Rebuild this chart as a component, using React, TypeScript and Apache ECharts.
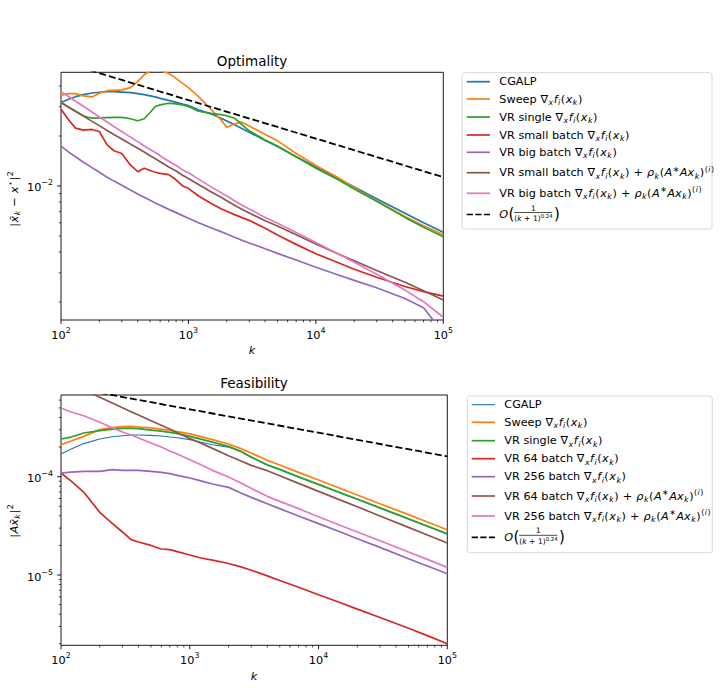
import React, { useEffect, useRef } from "react";
import * as echarts from "echarts";

const F = "DejaVu Sans";

// ---------- Optimality panel (top) ----------
const optK = [100, 115, 130, 150, 175, 200, 230, 260, 300, 350, 400, 450, 500, 550, 600, 700, 800, 900, 1000, 1200, 1500, 1800, 2000, 2300, 2600, 3000, 4000, 5000, 7000, 10000, 15000, 20000, 30000, 50000, 70000, 100000];
const optCgalp = [0.0318, 0.0333, 0.0345, 0.0355, 0.0363, 0.0367, 0.037, 0.037, 0.0368, 0.0365, 0.036, 0.0355, 0.0349, 0.0344, 0.0337, 0.0328, 0.0319, 0.0311, 0.0305, 0.0288, 0.0272, 0.0256, 0.0246, 0.0234, 0.0223, 0.0211, 0.0188, 0.0173, 0.015, 0.013, 0.0111, 0.00986, 0.00839, 0.00685, 0.00601, 0.00526];
const optSweep = [0.0353, 0.036, 0.036, 0.0349, 0.0344, 0.0362, 0.0375, 0.0377, 0.0379, 0.0391, 0.0425, 0.0469, 0.0491, 0.05, 0.0495, 0.0477, 0.0445, 0.0415, 0.0391, 0.0345, 0.029, 0.025, 0.0226, 0.0236, 0.0243, 0.023, 0.0204, 0.0187, 0.0157, 0.0133, 0.0112, 0.00977, 0.00816, 0.00654, 0.00577, 0.00509];
const optSingle = [0.0318, 0.0298, 0.0282, 0.0264, 0.0256, 0.0257, 0.0258, 0.0259, 0.0259, 0.0254, 0.0247, 0.0254, 0.0277, 0.0301, 0.0308, 0.0315, 0.0312, 0.0308, 0.0301, 0.0282, 0.0274, 0.0269, 0.0265, 0.0256, 0.0236, 0.0215, 0.0189, 0.0174, 0.015, 0.0128, 0.0109, 0.00959, 0.00808, 0.00647, 0.00564, 0.00495];
const optSmall = [0.029, 0.025, 0.0223, 0.0217, 0.0219, 0.0213, 0.0177, 0.0163, 0.0157, 0.0134, 0.0122, 0.0128, 0.0124, 0.0121, 0.0119, 0.0117, 0.0109, 0.01, 0.00968, 0.00871, 0.00786, 0.0073, 0.00704, 0.00672, 0.00647, 0.00621, 0.00556, 0.00507, 0.00445, 0.00391, 0.00345, 0.00315, 0.00282, 0.00248, 0.00231, 0.00217];
const optBig = [0.0174, 0.016, 0.015, 0.0139, 0.0129, 0.0121, 0.0113, 0.0107, 0.0101, 0.00946, 0.00895, 0.00855, 0.0082, 0.0079, 0.00765, 0.00723, 0.00691, 0.00663, 0.00639, 0.00601, 0.00561, 0.00531, 0.00514, 0.00491, 0.00473, 0.00454, 0.00419, 0.00393, 0.00358, 0.00324, 0.00291, 0.0027, 0.00244, 0.0021, 0.00185, 0.0013];
const optSmallRho = [0.0318, 0.0298, 0.0282, 0.0264, 0.0245, 0.0231, 0.0216, 0.0204, 0.0192, 0.0179, 0.0169, 0.016, 0.0152, 0.0146, 0.014, 0.013, 0.0123, 0.0116, 0.0111, 0.0102, 0.00924, 0.00855, 0.00816, 0.00765, 0.00727, 0.00688, 0.00618, 0.00574, 0.00509, 0.00447, 0.00389, 0.00355, 0.0031, 0.00263, 0.00234, 0.00206];
const optBigRho = [0.037, 0.0345, 0.0324, 0.0302, 0.0279, 0.026, 0.0243, 0.0228, 0.0213, 0.0197, 0.0185, 0.0174, 0.0166, 0.0159, 0.0152, 0.0141, 0.0133, 0.0125, 0.012, 0.011, 0.00991, 0.00912, 0.00871, 0.00816, 0.00772, 0.00727, 0.00647, 0.00596, 0.00524, 0.00456, 0.00389, 0.00347, 0.00294, 0.00236, 0.00201, 0.00162];
const optRateK = [100, 1000, 10000, 100000];
const optRate = [0.0562, 0.0329, 0.0193, 0.0113];

// ---------- Feasibility panel (bottom) ----------
const feaK = [100, 120, 150, 200, 250, 300, 350, 400, 500, 600, 700, 800, 1000, 1200, 1500, 2000, 2500, 3000, 4000, 5000, 7000, 10000, 15000, 20000, 30000, 50000, 70000, 100000];
const feaCgalp = [1.7e-4, 1.91e-4, 2.17e-4, 2.42e-4, 2.55e-4, 2.61e-4, 2.65e-4, 2.65e-4, 2.63e-4, 2.59e-4, 2.53e-4, 2.49e-4, 2.38e-4, 2.25e-4, 2.11e-4, 2.0e-4, 1.79e-4, 1.57e-4, 1.31e-4, 1.175e-4, 9.9e-5, 8.28e-5, 6.76e-5, 5.87e-5, 4.79e-5, 3.7e-5, 3.12e-5, 2.6e-5];
const feaSweep = [2.115e-4, 2.31e-4, 2.57e-4, 3.01e-4, 3.15e-4, 3.23e-4, 3.25e-4, 3.2e-4, 3.13e-4, 3.05e-4, 2.96e-4, 2.87e-4, 2.72e-4, 2.57e-4, 2.38e-4, 2.15e-4, 1.93e-4, 1.74e-4, 1.466e-4, 1.314e-4, 1.107e-4, 9.25e-5, 7.55e-5, 6.51e-5, 5.31e-5, 4.11e-5, 3.46e-5, 2.89e-5];
const feaSingle = [2.416e-4, 2.53e-4, 2.78e-4, 2.94e-4, 3.05e-4, 3.1e-4, 3.1e-4, 3.08e-4, 2.98e-4, 2.91e-4, 2.82e-4, 2.74e-4, 2.57e-4, 2.42e-4, 2.25e-4, 2.034e-4, 1.81e-4, 1.585e-4, 1.324e-4, 1.187e-4, 1.0e-4, 8.36e-5, 6.82e-5, 5.93e-5, 4.84e-5, 3.74e-5, 3.15e-5, 2.63e-5];
const feaSmall = [1.09e-4, 9.03e-5, 6.98e-5, 4.34e-5, 3.35e-5, 2.74e-5, 2.29e-5, 2.17e-5, 2.0e-5, 1.84e-5, 1.81e-5, 1.73e-5, 1.6e-5, 1.5e-5, 1.42e-5, 1.31e-5, 1.21e-5, 1.12e-5, 9.8e-6, 8.8e-6, 7.5e-6, 6.3e-6, 5.2e-6, 4.5e-6, 3.7e-6, 2.88e-6, 2.42e-6, 2.0e-6];
const feaBig = [1.09e-4, 1.115e-4, 1.133e-4, 1.133e-4, 1.178e-4, 1.16e-4, 1.16e-4, 1.16e-4, 1.133e-4, 1.107e-4, 1.073e-4, 1.032e-4, 9.69e-5, 9.11e-5, 8.42e-5, 7.79e-5, 6.82e-5, 6.16e-5, 5.31e-5, 4.73e-5, 3.98e-5, 3.33e-5, 2.72e-5, 2.34e-5, 1.912e-5, 1.466e-5, 1.235e-5, 1.032e-5];
const feaSmallRho = [9.77e-4, 8.74e-4, 7.64e-4, 6.41e-4, 5.61e-4, 5.03e-4, 4.58e-4, 4.24e-4, 3.71e-4, 3.33e-4, 3.05e-4, 2.8e-4, 2.45e-4, 2.22e-4, 1.94e-4, 1.635e-4, 1.443e-4, 1.304e-4, 1.151e-4, 1.024e-4, 8.55e-5, 7.09e-5, 5.74e-5, 4.95e-5, 3.98e-5, 3.05e-5, 2.55e-5, 2.115e-5];
const feaBigRho = [4.99e-4, 4.55e-4, 4.17e-4, 3.57e-4, 3.15e-4, 2.85e-4, 2.65e-4, 2.47e-4, 2.2e-4, 2.0e-4, 1.824e-4, 1.7e-4, 1.489e-4, 1.335e-4, 1.16e-4, 9.92e-5, 8.62e-5, 7.61e-5, 6.31e-5, 5.61e-5, 4.73e-5, 3.92e-5, 3.17e-5, 2.74e-5, 2.23e-5, 1.713e-5, 1.443e-5, 1.197e-5];
const feaRateK = [100, 1000, 10000, 100000];
const feaRate = [8.42e-4, 4.84e-4, 2.8e-4, 1.609e-4];

// ---------- labels ----------
const GRAD = "{n|\u2207}{sub|x}{it|f}{sub|i}{n|(}{it|x}{sub|k}{n|)}";
const RHO = "{n| + }{it|\u03c1}{sub|k}{n|(}{it|A}{sup|\u2217}{it|Ax}{sub|k}{n|)}{sup|(}{supi|i}{sup|)}";
const optLegend = ["CGALP", `Sweep ${GRAD}`, `VR single ${GRAD}`, `VR small batch ${GRAD}`, `VR big batch ${GRAD}`, `VR small batch ${GRAD}${RHO}`, `VR big batch ${GRAD}${RHO}`];
const feaLegend = ["CGALP", `Sweep ${GRAD}`, `VR single ${GRAD}`, `VR 64 batch ${GRAD}`, `VR 256 batch ${GRAD}`, `VR 64 batch ${GRAD}${RHO}`, `VR 256 batch ${GRAD}${RHO}`];
const titles = ["Optimality", "Feasibility"];
const yTitles = [
  "{n||}{it|x\u0304}{sub|k}{n| \u2212 }{it|x}{sup|\u22c6}{n||}{sup|2}",
  "{n||}{it|Ax\u0304}{sub|k}{n||}{sup|2}",
];

const COLORS = ["#1f77b4", "#ff7f0e", "#2ca02c", "#d62728", "#9467bd", "#8c564b", "#e377c2"];

const pairs = (ks: number[], vs: number[]) => ks.map((k, i) => [k, vs[i]]);

function decadeTicks(lo: number, hi: number) {
  const out: number[] = [];
  for (let e = Math.floor(Math.log10(lo)); e <= Math.ceil(Math.log10(hi)); e++) {
    for (let m = 1; m <= 9; m++) {
      const v = m * Math.pow(10, e);
      if (v >= lo * 0.99999 && v <= hi * 1.00001) out.push(v);
    }
  }
  return out;
}

const PH = 0.25;
const rich = {
  n: { fontSize: 11.25, fontFamily: F, fill: "#000", padding: [0, PH, 0, PH] },
  it: { fontSize: 11.25, fontFamily: F, fontStyle: "italic", fill: "#000", padding: [0, PH, 0, PH] },
  sub: { fontSize: 7.9, fontFamily: F, fontStyle: "italic", fill: "#000", padding: [7, PH, 0, PH] },
  sup: { fontSize: 7.9, fontFamily: F, fill: "#000", padding: [0, PH, 7, PH] },
  supi: { fontSize: 7.9, fontFamily: F, fontStyle: "italic", fill: "#000", padding: [0, PH, 7, PH] },
};

function lineSeries(name: string, color: string, ks: number[], vs: number[], idx: number, width = 1.7, dashed = false) {
  return {
    type: "line",
    name,
    xAxisIndex: idx,
    yAxisIndex: idx,
    data: pairs(ks, vs),
    symbol: "none",
    showSymbol: false,
    clip: true,
    silent: true,
    lineStyle: { color, width, type: dashed ? [7, 3] : "solid", cap: "butt", join: "round" },
    itemStyle: { color },
    emphasis: { disabled: true },
  };
}

function tickSeries(idx: number, vals: number[], dir: "x" | "y", fixed: number) {
  return {
    type: "custom",
    xAxisIndex: idx,
    yAxisIndex: idx,
    silent: true,
    clip: false,
    z: 10,
    data: vals.map((v) => (dir === "x" ? [v, fixed] : [fixed, v])),
    renderItem: (_p: any, api: any) => {
      const v = api.value(dir === "x" ? 0 : 1);
      const p = api.coord([api.value(0), api.value(1)]);
      const l = Math.log10(v);
      const major = Math.abs(l - Math.round(l)) < 1e-6;
      const len = major ? 3.9 : 2.25;
      const shape = dir === "x" ? { x1: p[0], y1: p[1], x2: p[0], y2: p[1] + len } : { x1: p[0] - len, y1: p[1], x2: p[0], y2: p[1] };
      return { type: "line", shape, style: { stroke: "#000", lineWidth: major ? 0.9 : 0.7 } };
    },
  };
}

const powLabel = (v: number) => {
  const l = Math.log10(v);
  const e = Math.round(l);
  if (Math.abs(l - e) > 1e-6) return "";
  return `{b|10}{s|${e < 0 ? "\u2212" + -e : e}}`;
};

const axisLabelRich = {
  b: { fontSize: 11.25, fontFamily: F, color: "#000", padding: [4, 0, 0, 0] },
  s: { fontSize: 7.9, fontFamily: F, color: "#000", padding: [0, 0, 6, 0] },
};

function legendEls(box: number[], lx: number[], tx: number, rows: number[], labels: string[], widths: number[]) {
  const els: any[] = [
    { type: "rect", shape: { x: box[0], y: box[1], width: box[2], height: box[3], r: 2.5 }, style: { fill: "#fff", stroke: "#d4d4d4", lineWidth: 0.9 }, z: 20 },
  ];
  labels.forEach((lab, i) => {
    els.push({ type: "line", shape: { x1: lx[0], y1: rows[i], x2: lx[1], y2: rows[i] }, style: { stroke: COLORS[i], lineWidth: widths[i] }, z: 21 });
    els.push({ type: "text", x: tx, y: rows[i], z: 21, style: { text: lab, fontSize: 11.25, fontFamily: F, fill: "#000", align: "left", verticalAlign: "middle", rich } });
  });
  const y = rows[7];
  els.push({ type: "line", shape: { x1: lx[0], y1: y, x2: lx[1], y2: y }, style: { stroke: "#000", lineWidth: 1.7, lineDash: [6.2, 2.4] }, z: 21 });
  els.push({ type: "text", x: tx, y, z: 21, style: { text: "O", fontSize: 11.25, fontFamily: F, fontStyle: "italic", fill: "#000", align: "left", verticalAlign: "middle" } });
  els.push({ type: "text", x: tx + 9.1, y: y - 0.5, z: 21, style: { text: "(", fontSize: 15, fontFamily: F, fill: "#000", align: "left", verticalAlign: "middle" } });
  els.push({ type: "text", x: tx + 34, y: y - 6.4, z: 21, style: { text: "1", fontSize: 7.6, fontFamily: F, fill: "#000", align: "center", verticalAlign: "middle" } });
  els.push({ type: "line", shape: { x1: tx + 14.8, y1: y - 2, x2: tx + 53, y2: y - 2 }, style: { stroke: "#000", lineWidth: 0.7 }, z: 21 });
  els.push({
    type: "text", x: tx + 34.2, y: y + 3.8, z: 21,
    style: {
      text: "{dn|(}{di|k}{dn| + 1)}{ds|0.24}", align: "center", verticalAlign: "middle", fontSize: 7.6, fontFamily: F, fill: "#000",
      rich: {
        dn: { fontSize: 7.6, fontFamily: F, fill: "#000" },
        di: { fontSize: 7.6, fontFamily: F, fontStyle: "italic", fill: "#000" },
        ds: { fontSize: 5.4, fontFamily: F, fill: "#000", padding: [0, 0, 5, 0] },
      },
    },
  });
  els.push({ type: "text", x: tx + 54.6, y: y - 0.5, z: 21, style: { text: ")", fontSize: 15, fontFamily: F, fill: "#000", align: "left", verticalAlign: "middle" } });
  return els;
}

function buildOption() {
  const yLim = [[0.001559, 0.04839], [1.93e-6, 6.77e-4]];
  const xLim = [100, 100000];
  const grids = [
    { left: 61, top: 72.3, width: 382.3, height: 247.7 },
    { left: 61, top: 395, width: 386.3, height: 250.3 },
  ];
  const xAxes = grids.map((_, i) => ({
    gridIndex: i, type: "log", logBase: 10, min: xLim[0], max: xLim[1],
    axisLine: { show: false }, axisTick: { show: false }, splitLine: { show: false },
    axisLabel: { formatter: powLabel, margin: 5.5, rich: axisLabelRich, color: "#000", fontFamily: F, fontSize: 11.25, hideOverlap: false },
  }));
  const yAxes = grids.map((_, i) => ({
    gridIndex: i, type: "log", logBase: 10, min: yLim[i][0], max: yLim[i][1],
    axisLine: { show: false }, axisTick: { show: false }, splitLine: { show: false },
    axisLabel: { formatter: powLabel, margin: 8, rich: axisLabelRich, color: "#000", fontFamily: F, fontSize: 11.25, hideOverlap: false },
  }));

  const optVals = [optCgalp, optSweep, optSingle, optSmall, optBig, optSmallRho, optBigRho];
  const feaVals = [feaCgalp, feaSweep, feaSingle, feaSmall, feaBig, feaSmallRho, feaBigRho];
  const optWidths = [1.7, 1.7, 1.7, 1.7, 1.7, 1.7, 1.7];
  const feaWidths = [1.1, 1.7, 1.7, 1.7, 1.7, 1.7, 1.7];
  const series: any[] = [];
  optVals.forEach((v, i) => series.push(lineSeries("opt" + i, COLORS[i], optK, v, 0, optWidths[i])));
  series.push(lineSeries("optRate", "#000", optRateK, optRate, 0, 1.8, true));
  feaVals.forEach((v, i) => series.push(lineSeries("fea" + i, COLORS[i], feaK, v, 1, feaWidths[i])));
  series.push(lineSeries("feaRate", "#000", feaRateK, feaRate, 1, 1.8, true));
  [0, 1].forEach((i) => {
    series.push(tickSeries(i, decadeTicks(xLim[0], xLim[1]), "x", yLim[i][0]));
    series.push(tickSeries(i, decadeTicks(yLim[i][0], yLim[i][1]), "y", xLim[0]));
  });

  const graphic: any[] = [
    { type: "text", x: 252, y: 60.7, style: { text: titles[0], fontSize: 13.5, fontFamily: F, fill: "#000", align: "center", verticalAlign: "middle" } },
    { type: "text", x: 254, y: 383.3, style: { text: titles[1], fontSize: 13.5, fontFamily: F, fill: "#000", align: "center", verticalAlign: "middle" } },
    { type: "text", x: 252, y: 350.7, style: { text: "k", fontSize: 11.25, fontFamily: F, fontStyle: "italic", fill: "#000", align: "center", verticalAlign: "middle" } },
    { type: "text", x: 254, y: 676.7, style: { text: "k", fontSize: 11.25, fontFamily: F, fontStyle: "italic", fill: "#000", align: "center", verticalAlign: "middle" } },
    { type: "text", x: 14, y: 199, rotation: Math.PI / 2, style: { text: yTitles[0], fontSize: 11.25, fontFamily: F, fill: "#000", align: "center", verticalAlign: "middle", rich } },
    { type: "text", x: 14, y: 521, rotation: Math.PI / 2, style: { text: yTitles[1], fontSize: 11.25, fontFamily: F, fill: "#000", align: "center", verticalAlign: "middle", rich } },
    ...legendEls([462, 72.7, 250, 156.3], [466.7, 490], 499.3, [81.7, 99, 117, 135, 152.3, 172.7, 193.3, 214.5], optLegend, optWidths),
    ...legendEls([467.3, 396, 245, 156.7], [471.7, 495], 504.3, [404.7, 422.3, 440.7, 458.7, 476.7, 496, 516, 537.3], feaLegend, feaWidths),
  ];

  return {
    animation: false,
    backgroundColor: "#fff",
    textStyle: { fontFamily: F },
    grid: grids.map((g) => ({ ...g, show: true, borderColor: "#000", borderWidth: 0.9, backgroundColor: "transparent", containLabel: false, outerBoundsMode: "none" })),
    xAxis: xAxes,
    yAxis: yAxes,
    series,
    graphic,
  };
}

export default function App() {
  const ref = useRef<HTMLDivElement>(null);
  useEffect(() => {
    document.body.style.margin = "0";
    const chart = echarts.init(ref.current!, undefined, { renderer: "svg", width: 721, height: 697 });
    chart.setOption(buildOption() as any);
    return () => chart.dispose();
  }, []);
  return <div ref={ref} style={{ width: 721, height: 697 }} />;
}
